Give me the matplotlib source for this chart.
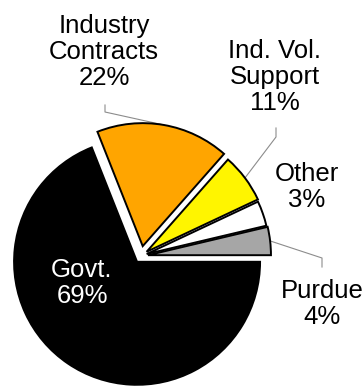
import matplotlib
matplotlib.use("Agg")
import matplotlib.pyplot as plt
import numpy as np

# slices in drawing order, starting at 3 o'clock going counter-clockwise
names = ["Purdue", "Other", "Ind. Vol.\nSupport", "Industry\nContracts", "Govt."]
pct_labels = ["4%", "3%", "11%", "22%", "69%"]
shares = [3.7, 3.3, 6.5, 17.5, 69.0]

colors = ["#A6A6A6", "#FFFFFF", "#FFF500", "#FFA500", "#000000"]
explode = [7, 6, 7, 10, 7]  # pie explode is in data units here (pixels)

plt.rcParams["font.family"] = ["Liberation Sans", "DejaVu Sans"]

fig = plt.figure(figsize=(3.64, 3.90), dpi=100)
ax = fig.add_axes([0, 0, 1, 1])

# y axis is inverted (pixel-like coords), so counterclock=False shows
# counter-clockwise on screen
wedges, _ = ax.pie(shares, colors=colors, explode=explode, startangle=0,
                   counterclock=False, center=(141, 256), radius=123,
                   frame=True,
                   wedgeprops=dict(edgecolor="black", linewidth=1.4))
ax.set_xlim(0, 364)
ax.set_ylim(390, 0)
ax.set_aspect("equal")
ax.axis("off")

label_pos = [(322, 304), (307, 187), (275, 77), (104, 52), (82, 283)]
for i, (x, y) in enumerate(label_pos):
    ax.text(x, y, names[i] + "\n" + pct_labels[i], ha="center", va="center",
            fontsize=18.5, linespacing=1.12,
            color="white" if i == 4 else "black")

# leader lines from the middle of the slice arc to the label
elbows = {0: [(322, 258), (322, 267)],
          2: [(276, 137), (276, 128)],
          3: [(105, 112), (105, 105)]}
for i, pts in elbows.items():
    w = wedges[i]
    mid = np.deg2rad((w.theta1 + w.theta2) / 2)
    cx, cy = w.center
    start = (cx + w.r * np.cos(mid), cy + w.r * np.sin(mid))
    xs = [start[0]] + [p[0] for p in pts]
    ys = [start[1]] + [p[1] for p in pts]
    ax.plot(xs, ys, color="#8C8C8C", linewidth=0.8, zorder=0)

fig.savefig("out.png", dpi=100)
